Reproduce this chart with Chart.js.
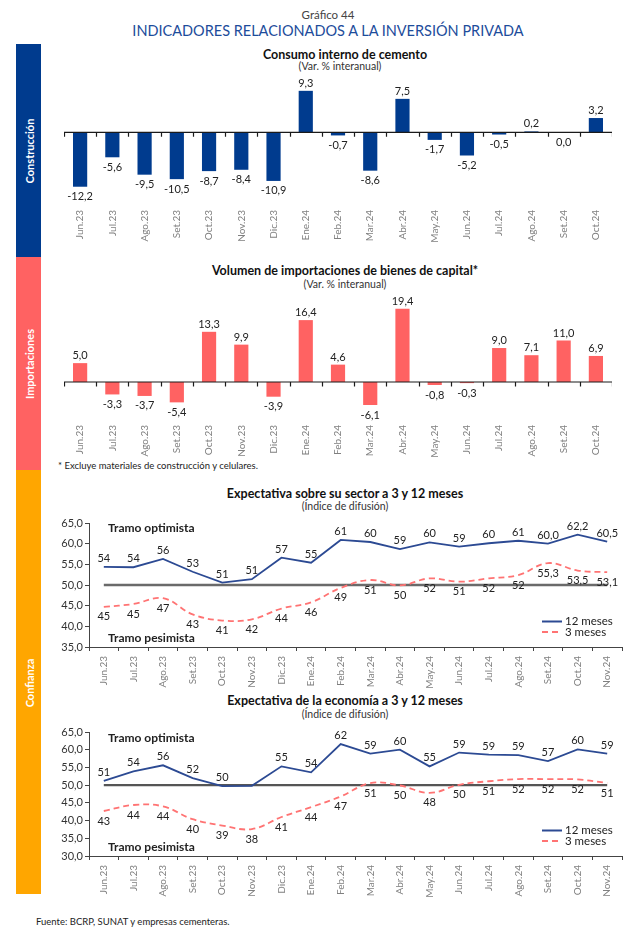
<!DOCTYPE html>
<html><head><meta charset="utf-8">
<script src="https://cdn.jsdelivr.net/npm/chart.js@4.4.1/dist/chart.umd.min.js"></script>
<style>
html,body{margin:0;padding:0;background:#fff;}
body{width:640px;height:934px;position:relative;overflow:hidden;font-family:Lato,'Open Sans',sans-serif;color:#222;}
.c{position:absolute;white-space:nowrap;transform:translate(-50%,-50%);}
.l{position:absolute;white-space:nowrap;transform:translate(0,-50%);}
.side{position:absolute;left:16px;width:25px;}
.sidelab{position:absolute;left:28.5px;color:#fff;font-weight:bold;font-size:11px;white-space:nowrap;transform:translate(-50%,-50%) rotate(-90deg);}
.wrap{position:absolute;}
.ttl{font-weight:bold;font-size:12.5px;color:#111;}
.sub{font-size:10.5px;color:#333;}
.tramo{font-weight:bold;font-size:12px;color:#222;}
</style></head><body>
<div class="c" style="left:328px;top:14px;font-size:11.5px;color:#444;">Gráfico 44</div>
<div class="c" style="left:328px;top:30px;font-size:14.5px;color:#1d4c9b;">INDICADORES RELACIONADOS A LA INVERSIÓN PRIVADA</div>

<div class="side" style="top:44px;height:213px;background:#003b8e;"></div>
<div class="side" style="top:257px;height:213px;background:#ff6262;"></div>
<div class="side" style="top:470px;height:424px;background:#ffa600;"></div>
<div class="sidelab" style="top:151px;">Construcción</div>
<div class="sidelab" style="top:364px;">Importaciones</div>
<div class="sidelab" style="top:683px;">Confianza</div>

<div class="c ttl" style="left:345px;top:54px;">Consumo interno de cemento</div>
<div class="c sub" style="left:340px;top:66px;">(Var. % interanual)</div>
<div class="wrap" style="left:64px;top:68px;"><canvas id="c1" width="548" height="174"></canvas></div>

<div class="c ttl" style="left:345px;top:270px;">Volumen de importaciones de bienes de capital*</div>
<div class="c sub" style="left:345px;top:284px;">(Var. % interanual)</div>
<div class="wrap" style="left:64px;top:286px;"><canvas id="c2" width="548" height="171"></canvas></div>
<div class="l" style="left:58px;top:465px;font-size:9.5px;color:#222;">* Excluye materiales de construcción y celulares.</div>

<div class="c ttl" style="left:345px;top:493px;">Expectativa sobre su sector a 3 y 12 meses</div>
<div class="c sub" style="left:345px;top:506px;">(Índice de difusión)</div>
<div class="wrap" style="left:50px;top:513px;"><canvas id="c3" width="576" height="176"></canvas></div>
<div class="l tramo" style="left:108px;top:527px;">Tramo optimista</div>
<div class="l tramo" style="left:108px;top:637px;">Tramo pesimista</div>

<div class="c ttl" style="left:345px;top:700px;">Expectativa de la economía a 3 y 12 meses</div>
<div class="c sub" style="left:345px;top:714px;">(Índice de difusión)</div>
<div class="wrap" style="left:50px;top:722px;"><canvas id="c4" width="576" height="176"></canvas></div>
<div class="l tramo" style="left:108px;top:737px;">Tramo optimista</div>
<div class="l tramo" style="left:108px;top:846px;">Tramo pesimista</div>

<div class="l" style="left:36px;top:921px;font-size:9.5px;color:#222;">Fuente: BCRP, SUNAT y empresas cementeras.</div>

<script>
// ---------- DATA ----------
const barMonths = ['Jun.23','Jul.23','Ago.23','Set.23','Oct.23','Nov.23','Dic.23','Ene.24','Feb.24','Mar.24','Abr.24','May.24','Jun.24','Jul.24','Ago.24','Set.24','Oct.24'];
const cemento = [-12.2,-5.6,-9.5,-10.5,-8.7,-8.4,-10.9,9.3,-0.7,-8.6,7.5,-1.7,-5.2,-0.5,0.2,0.0,3.2];
const importaciones = [5.0,-3.3,-3.7,-5.4,13.3,9.9,-3.9,16.4,4.6,-6.1,19.4,-0.8,-0.3,9.0,7.1,11.0,6.9];

const lineMonths = ['Jun.23','Jul.23','Ago.23','Set.23','Oct.23','Nov.23','Dic.23','Ene.24','Feb.24','Mar.24','Abr.24','May.24','Jun.24','Jul.24','Ago.24','Set.24','Oct.24','Nov.24'];
const sector12 = [54.4,54.3,56.3,53.2,50.6,51.4,56.6,55.4,60.9,60.4,58.7,60.3,59.3,60.1,60.7,60.0,62.2,60.5];
const sector3  = [44.7,45.4,46.8,42.9,41.4,41.7,44.3,45.8,49.3,51.2,49.9,51.6,50.8,51.6,52.4,55.3,53.5,53.1];
const sectorDecimalsFrom = 15; // labels from Set.24 on show one decimal

const econ12 = [51.2,53.9,55.6,52.0,49.7,49.8,55.3,53.6,61.6,58.9,60.0,55.3,59.2,58.6,58.5,56.8,60.1,58.9];
const econ3  = [42.7,44.4,44.0,40.4,38.6,37.6,41.0,43.8,46.8,50.6,49.9,47.8,50.1,51.1,51.7,51.7,51.6,50.6];
const econHiddenLabels12 = [5];

const refLevel = 50;
const legendNames = ['12 meses','3 meses'];

// ---------- HELPERS ----------
const FONT = 'Lato, "Open Sans", sans-serif';
const fmt = (v,d) => v.toFixed(d).replace('.', ',');

const zeroAxis = {
  id:'zeroAxis',
  afterDatasetsDraw(chart){
    const {ctx, chartArea:a, scales:{x,y}} = chart;
    const y0 = y.getPixelForValue(0);
    const n = x.getLabels().length, w = (a.right-a.left)/n;
    ctx.save(); ctx.strokeStyle='#1a1a1a'; ctx.lineWidth=1.2;
    ctx.beginPath(); ctx.moveTo(a.left,y0); ctx.lineTo(a.right,y0);
    for(let i=0;i<=n;i++){const px=Math.round(a.left+i*w)+0.5; ctx.moveTo(px,y0); ctx.lineTo(px,y0+4.5);}
    ctx.stroke(); ctx.restore();
  }
};
const barLabels = {
  id:'barLabels',
  afterDatasetsDraw(chart){
    const {ctx} = chart; const meta = chart.getDatasetMeta(0);
    const data = chart.data.datasets[0].data;
    ctx.save(); ctx.font='11px '+FONT; ctx.fillStyle='#222'; ctx.textAlign='center'; ctx.textBaseline='middle';
    data.forEach((v,i)=>{const el=meta.data[i]; const yy = v>0 ? el.y-7.5 : el.y+10; ctx.fillText(fmt(v,1), el.x, yy);});
    ctx.restore();
  }
};
function barChart(id, data, color, min, max){
  return new Chart(document.getElementById(id), {
    type:'bar',
    data:{labels:barMonths, datasets:[{data, backgroundColor:color, borderWidth:0, categoryPercentage:1, barPercentage:0.44}]},
    options:{responsive:false, animation:false, devicePixelRatio:1,
      layout:{padding:{top:16,left:0,right:0,bottom:0}},
      plugins:{legend:{display:false}, tooltip:{enabled:false}},
      scales:{
        x:{grid:{display:false,drawTicks:false}, border:{display:false},
           ticks:{minRotation:90,maxRotation:90,padding:4,autoSkip:false,color:'#808080',font:{family:FONT,size:10}},
           afterFit:s=>{s.height=36;}},
        y:{display:false,min,max}
      }},
    plugins:[zeroAxis, barLabels]
  });
}
barChart('c1', cemento, '#003b8e', -16.52, 10.83);
barChart('c2', importaciones, '#ff6262', -10.34, 21.2);

const refLine = {
  id:'refLine',
  beforeDatasetsDraw(chart, args, opts){
    const {ctx, scales:{x,y}} = chart;
    const py = y.getPixelForValue(refLevel);
    const n = x.getLabels().length;
    ctx.save(); ctx.strokeStyle=opts.color; ctx.lineWidth=opts.width;
    ctx.beginPath(); ctx.moveTo(x.getPixelForValue(0),py); ctx.lineTo(x.getPixelForValue(n-1),py); ctx.stroke(); ctx.restore();
  }
};
const lineLabels = {
  id:'lineLabels',
  afterDatasetsDraw(chart, args, opts){
    const {ctx} = chart;
    ctx.save(); ctx.font='11px '+FONT; ctx.fillStyle='#222'; ctx.textAlign='center'; ctx.textBaseline='middle';
    chart.data.datasets.forEach((ds,di)=>{
      const meta = chart.getDatasetMeta(di);
      ds.data.forEach((v,i)=>{
        if (ds.hidden_labels && ds.hidden_labels.includes(i)) return;
        const d = (opts.decFrom!=null && i>=opts.decFrom) ? 1 : 0;
        const el = meta.data[i];
        const yy = di===0 ? el.y-8.5 : el.y+10;
        ctx.fillText(fmt(v,d), el.x, yy);
      });
    });
    ctx.restore();
  }
};
const lineLegend = {
  id:'lineLegend',
  afterDraw(chart){
    const {ctx, chartArea:a} = chart;
    ctx.save(); ctx.font='11.5px '+FONT; ctx.fillStyle='#222'; ctx.textBaseline='middle'; ctx.textAlign='left';
    chart.data.datasets.forEach((ds,di)=>{
      const yy = a.bottom - (di===0 ? 25.5 : 15);
      ctx.strokeStyle=ds.borderColor; ctx.lineWidth=2; ctx.setLineDash(ds.borderDash||[]);
      ctx.beginPath(); ctx.moveTo(a.right-80,yy); ctx.lineTo(a.right-60,yy); ctx.stroke();
      ctx.setLineDash([]);
      ctx.fillText(ds.label, a.right-57, yy);
    });
    ctx.restore();
  }
};
function lineChart(id, d12, d3, min, max, decFrom, hidden12, refColor){
  return new Chart(document.getElementById(id), {
    type:'line',
    data:{labels:lineMonths, datasets:[
      {label:legendNames[0], data:d12, borderColor:'#2c4a93', borderWidth:1.8, pointRadius:0, tension:0, hidden_labels:hidden12},
      {label:legendNames[1], data:d3, borderColor:'#ff7373', borderWidth:1.8, borderDash:[6,4], pointRadius:0, tension:0.4}
    ]},
    options:{responsive:false, animation:false, devicePixelRatio:1,
      layout:{padding:{top:10,left:0,right:4,bottom:0}},
      plugins:{legend:{display:false}, tooltip:{enabled:false}, refLine:{color:refColor,width:2.4}, lineLabels:{decFrom}},
      scales:{
        x:{offset:true, grid:{offset:true,drawOnChartArea:false,drawTicks:true,tickLength:4,color:'#444'}, border:{color:'#444'},
           ticks:{minRotation:90,maxRotation:90,padding:5,autoSkip:false,color:'#808080',font:{family:FONT,size:10}},
           afterFit:s=>{s.height=42;}},
        y:{min,max, grid:{drawOnChartArea:false,drawTicks:true,tickLength:4,color:'#444'}, border:{color:'#444'},
           ticks:{stepSize:5,padding:2,color:'#333',font:{family:FONT,size:11},callback:v=>fmt(v,1)},
           afterFit:s=>{s.width=39;}}
      }},
    plugins:[refLine, lineLabels, lineLegend]
  });
}
lineChart('c3', sector12, sector3, 35, 65, sectorDecimalsFrom, [], '#6a6a6a');
lineChart('c4', econ12, econ3, 30, 65, null, econHiddenLabels12, '#555');
</script>
</body></html>
